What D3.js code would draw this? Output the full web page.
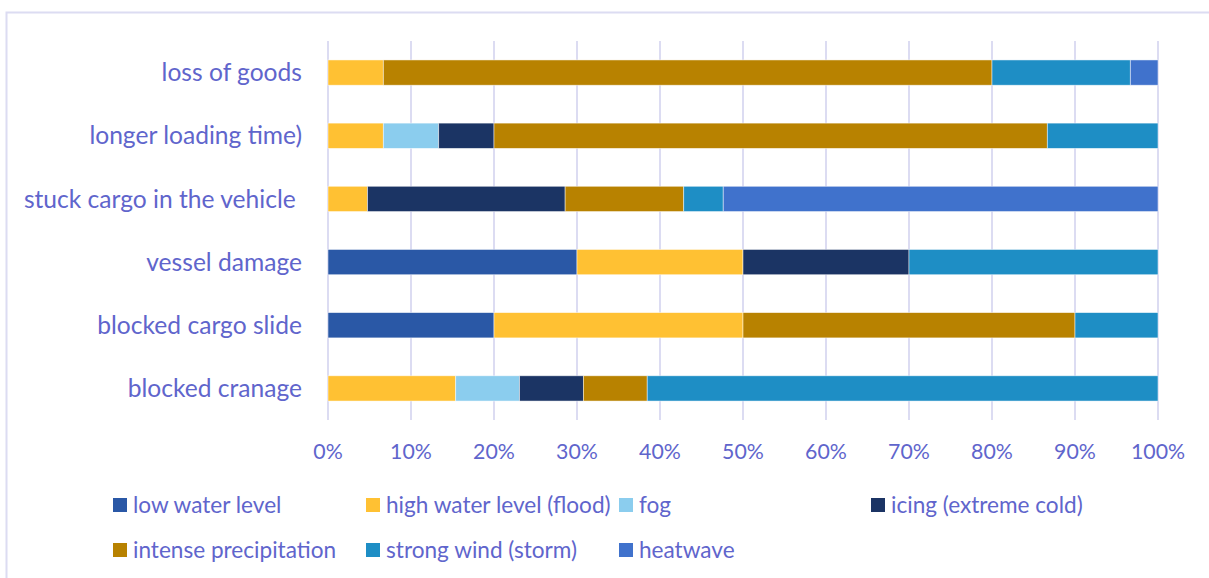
<!DOCTYPE html>
<html>
<head>
<meta charset="utf-8">
<script src="https://cdn.jsdelivr.net/npm/d3@7"></script>
<style>
  html, body { margin: 0; padding: 0; background: #fff; }
  svg { display: block; font-family: Lato, "Open Sans", sans-serif; }
  text { white-space: pre; }
</style>
</head>
<body>
<svg id="chart" width="1209" height="578"></svg>
<script>
// Impact categories, top to bottom
const categories = [
  "loss of goods",
  "longer loading time)",
  "stuck cargo in the vehicle ",
  "vessel damage",
  "blocked cargo slide",
  "blocked cranage"
];

// Weather hazards (stack order, left to right)
const seriesNames = [
  "low water level",
  "high water level (flood)",
  "fog",
  "icing (extreme cold)",
  "intense precipitation",
  "strong wind (storm)",
  "heatwave"
];

// Number of mentions per hazard, one entry per category (same order as categories)
const lowWater      = [0, 0, 0, 3, 2, 0];
const highWater     = [2, 1, 1, 2, 3, 2];
const fog           = [0, 1, 0, 0, 0, 1];
const icing         = [0, 1, 5, 2, 0, 1];
const precipitation = [22, 10, 3, 0, 4, 1];
const strongWind    = [5, 2, 1, 3, 1, 8];
const heatwave      = [1, 0, 11, 0, 0, 0];

const seriesValues = [lowWater, highWater, fog, icing, precipitation, strongWind, heatwave];
const colors = ["#2A58A6", "#FFC133", "#8BCDEE", "#1B3464", "#B88200", "#1E8EC5", "#4072CC"];

const tickValues = [0, 0.1, 0.2, 0.3, 0.4, 0.5, 0.6, 0.7, 0.8, 0.9, 1.0];

const textColor = "#6065CC";
const gridColor = "#DCDCF2";

// Build rows of shares (100% stacked)
const rows = categories.map((c, i) => {
  const total = d3.sum(seriesValues, s => s[i]);
  const row = { category: c };
  seriesNames.forEach((n, k) => { row[n] = seriesValues[k][i] / total; });
  return row;
});

const stacked = d3.stack().keys(seriesNames)(rows);

const svg = d3.select("#chart");

// Chart frame
svg.append("rect")
  .attr("x", 6.5).attr("y", 12.5)
  .attr("width", 1300).attr("height", 700)
  .attr("fill", "none")
  .attr("stroke", gridColor)
  .attr("stroke-width", 2);

const plot = { left: 328, right: 1158, top: 41, bottom: 420 };

const x = d3.scaleLinear().domain([0, 1]).range([plot.left, plot.right]);
const y = d3.scaleBand().domain(categories).range([plot.top, plot.bottom]).paddingInner(0.6).paddingOuter(0.3);

// Vertical gridlines
svg.append("g")
  .selectAll("line")
  .data(tickValues)
  .join("line")
  .attr("x1", d => x(d)).attr("x2", d => x(d))
  .attr("y1", plot.top).attr("y2", plot.bottom)
  .attr("stroke", gridColor)
  .attr("stroke-width", 2);

// Stacked bars
svg.append("g")
  .selectAll("g")
  .data(stacked)
  .join("g")
  .attr("fill", (d, i) => colors[i])
  .selectAll("rect")
  .data(d => d.filter(p => p[1] - p[0] > 0))
  .join("rect")
  .attr("x", d => x(d[0]))
  .attr("y", d => y(d.data.category))
  .attr("width", d => x(d[1]) - x(d[0]))
  .attr("height", y.bandwidth())
  .attr("stroke", "#ffffff")
  .attr("stroke-opacity", 0.6)
  .attr("stroke-width", 0.8);

// Category labels
svg.append("g")
  .selectAll("text")
  .data(categories)
  .join("text")
  .attr("x", plot.left - 26)
  .attr("y", d => y(d) + y.bandwidth() / 2)
  .attr("dy", "0.35em")
  .attr("text-anchor", "end")
  .attr("fill", textColor)
  .attr("font-size", 24.6)
  .text(d => d);

// X axis tick labels
const fmt = d3.format(".0%");
svg.append("g")
  .selectAll("text")
  .data(tickValues)
  .join("text")
  .attr("x", d => x(d))
  .attr("y", 452)
  .attr("dy", "0.35em")
  .attr("text-anchor", "middle")
  .attr("fill", textColor)
  .attr("font-size", 21.3)
  .text(d => fmt(d));

// Legend
const legendPos = [
  [113, 505], [366, 505], [619, 505], [871, 505],
  [113, 550], [366, 550], [619, 550]
];
const legend = svg.append("g")
  .selectAll("g")
  .data(seriesNames)
  .join("g")
  .attr("transform", (d, i) => `translate(${legendPos[i][0]},${legendPos[i][1]})`);

legend.append("rect")
  .attr("x", 0).attr("y", -7)
  .attr("width", 14).attr("height", 14)
  .attr("fill", (d, i) => colors[i]);

legend.append("text")
  .attr("x", 20)
  .attr("y", 0)
  .attr("dy", "0.35em")
  .attr("fill", textColor)
  .attr("font-size", 22.6)
  .text(d => d);
</script>
</body>
</html>
